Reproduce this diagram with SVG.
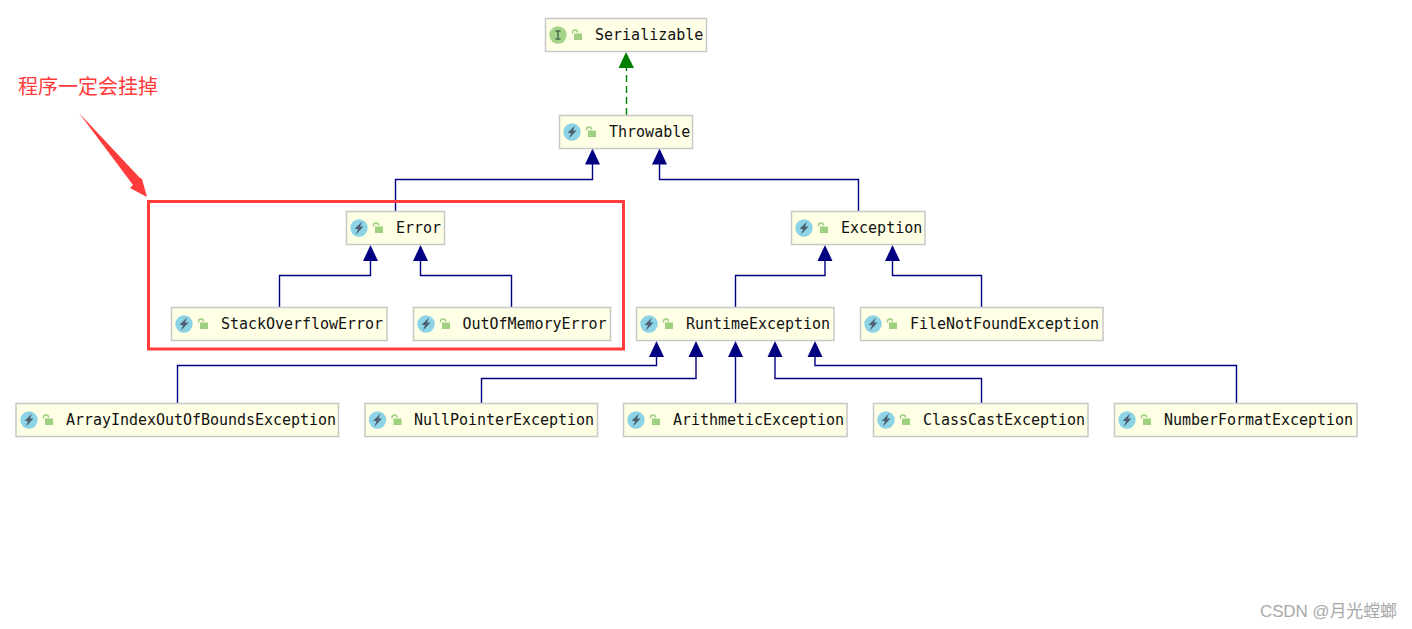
<svg xmlns="http://www.w3.org/2000/svg" xmlns:xlink="http://www.w3.org/1999/xlink" width="1412" height="629" viewBox="0 0 1412 629">
<style>
.box{fill:#ffffe5;stroke:#c8c8c8;stroke-width:1.5}
.t{font-family:"DejaVu Sans Mono","Liberation Mono",monospace;font-size:15px;fill:#111}
.e{fill:none;stroke:#000080;stroke-width:1.4}
.ah{fill:#000080}
</style>
<defs>
<g id="lock"><path d="M-5.500 -1.500V-2.500A2.500 2.500 0 0 1 -0.500 -2.500" fill="none" stroke="#9ed080" stroke-width="1.500"/><rect x="-4" y="-1.500" width="8" height="6.500" fill="#9ed080"/></g>
<g id="cls"><circle r="8.700" fill="#8dd3e6"/><path d="M3 -6.500L-4.500 1H-1L-3 6.500L4.500 -1.500H1Z" fill="#4d5f70"/><use href="#lock" x="20"/></g>
<g id="ifc"><circle r="8.700" fill="#a5d58b"/><path d="M-2.500 -4H2.500M0 -4V4M-2.500 4H2.500" fill="none" stroke="#4d6b4d" stroke-width="1.500"/><use href="#lock" x="20"/></g>
</defs>
<g id="connectors">
<path d="M626.500 115V64" fill="none" stroke="#008000" stroke-width="1.400" stroke-dasharray="7 4"/>
<path d="M618.500 68L626 52L634 68Z" fill="#008000"/>
<path class="e" d="M395.500 211V179.500H592.500V160"/><path class="ah" d="M585 164.500L592.500 148.500L600 164.500Z"/>
<path class="e" d="M858.500 211V179.500H659.500V160"/><path class="ah" d="M652 164.500L659.500 148.500L667 164.500Z"/>
<path class="e" d="M279.500 307V275.500H370.500V256"/><path class="ah" d="M363 261L370.500 245L378 261Z"/>
<path class="e" d="M511.500 307V275.500H420.500V256"/><path class="ah" d="M413 261L420.500 245L428 261Z"/>
<path class="e" d="M735.500 307V275.500H825V256"/><path class="ah" d="M817.500 261L825 245L832.500 261Z"/>
<path class="e" d="M981.500 307V275.500H892.500V256"/><path class="ah" d="M885 261L892.500 245L900 261Z"/>
<path class="e" d="M177.500 403V365.500H656.500V352"/><path class="ah" d="M649 357L656.500 341L664 357Z"/>
<path class="e" d="M481.500 403V378.500H696V352"/><path class="ah" d="M688.500 357L696 341L703.500 357Z"/>
<path class="e" d="M735.500 403V352"/><path class="ah" d="M728 357L735.500 341L743 357Z"/>
<path class="e" d="M981.500 403V378.500H775V352"/><path class="ah" d="M767.500 357L775 341L782.500 357Z"/>
<path class="e" d="M1236.500 403V365.500H815V352"/><path class="ah" d="M807.500 357L815 341L822.500 357Z"/>
</g>
<g id="serializable"><rect class="box" x="545.500" y="18.500" width="161" height="33"/><use href="#ifc" x="558" y="35"/><text class="t" x="595" y="40">Serializable</text></g>
<g id="throwable"><rect class="box" x="559.500" y="115.500" width="133" height="33"/><use href="#cls" x="572" y="132"/><text class="t" x="609" y="137">Throwable</text></g>
<g id="error"><rect class="box" x="346.500" y="211.500" width="98" height="33"/><use href="#cls" x="359" y="228"/><text class="t" x="396" y="233">Error</text></g>
<g id="exception"><rect class="box" x="791.500" y="211.500" width="133.500" height="33"/><use href="#cls" x="804" y="228"/><text class="t" x="841" y="233">Exception</text></g>
<g id="stackoverflow"><rect class="box" x="171.500" y="307.500" width="215.500" height="33"/><use href="#cls" x="184" y="324"/><text class="t" x="221" y="329" textLength="162">StackOverflowError</text></g>
<g id="outofmemory"><rect class="box" x="413.500" y="307.500" width="197" height="33"/><use href="#cls" x="426" y="324"/><text class="t" x="462.500" y="329" textLength="144">OutOfMemoryError</text></g>
<g id="runtime"><rect class="box" x="636.500" y="307.500" width="197.500" height="33"/><use href="#cls" x="649" y="324"/><text class="t" x="686" y="329" textLength="144">RuntimeException</text></g>
<g id="filenotfound"><rect class="box" x="860.500" y="307.500" width="242.500" height="33"/><use href="#cls" x="873" y="324"/><text class="t" x="910" y="329" textLength="189">FileNotFoundException</text></g>
<g id="arrayindex"><rect class="box" x="16" y="403.500" width="322.500" height="33"/><use href="#cls" x="29" y="420"/><text class="t" x="66" y="425" textLength="270">ArrayIndexOutOfBoundsException</text></g>
<g id="nullpointer"><rect class="box" x="365" y="403.500" width="232.500" height="33"/><use href="#cls" x="377.500" y="420"/><text class="t" x="414" y="425" textLength="180">NullPointerException</text></g>
<g id="arithmetic"><rect class="box" x="623.500" y="403.500" width="223.500" height="33"/><use href="#cls" x="636" y="420"/><text class="t" x="673" y="425" textLength="171">ArithmeticException</text></g>
<g id="classcast"><rect class="box" x="873.500" y="403.500" width="214.500" height="33"/><use href="#cls" x="886" y="420"/><text class="t" x="923" y="425" textLength="162">ClassCastException</text></g>
<g id="numberformat"><rect class="box" x="1114.500" y="403.500" width="242.500" height="33"/><use href="#cls" x="1127" y="420"/><text class="t" x="1164" y="425" textLength="189">NumberFormatException</text></g>
<rect x="148.500" y="201.500" width="475" height="147.500" fill="none" stroke="#ff3b3b" stroke-width="3"/>
<path d="M79 113L139.500 177.500L142 179L147 197L130 188L133 185Z" fill="#ff3b3b"/>
<text x="18" y="93.500" font-family="'Noto Sans CJK SC',sans-serif" font-size="20px" fill="#ff3b3b">程序一定会挂掉</text>
<text x="1260" y="617" font-family="'Liberation Sans','Noto Sans CJK SC',sans-serif" font-size="17px" fill="#a8a8a8" textLength="137">CSDN @月光螳螂</text>
</svg>
